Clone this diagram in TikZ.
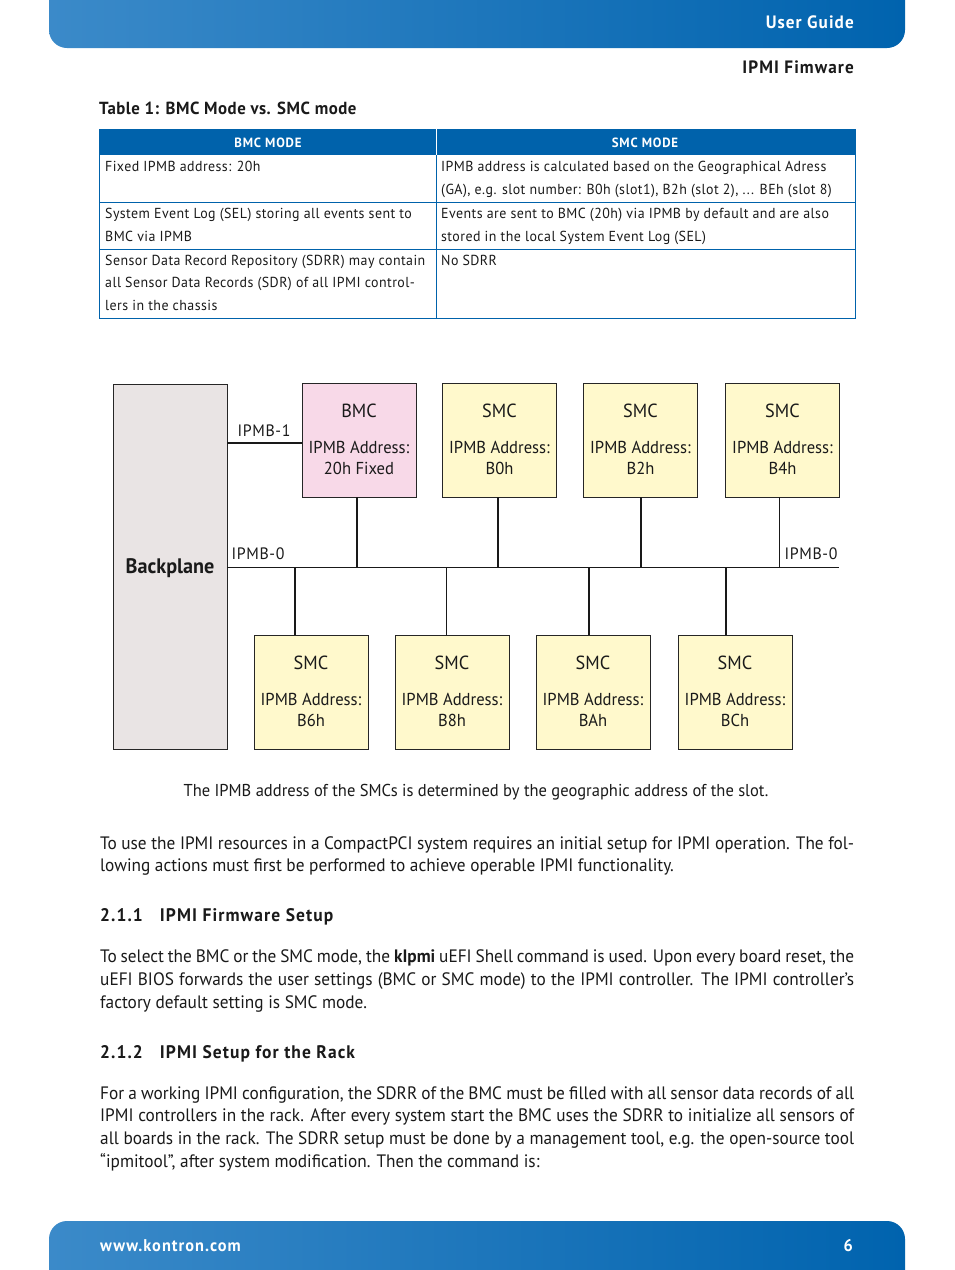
\documentclass[tikz,border=0pt]{standalone}
\usepackage{fontspec}
\setmainfont{PT Sans}[FakeStretch=0.96]
\usetikzlibrary{calc}
\definecolor{kblue}{HTML}{0062AB}
\definecolor{klight}{HTML}{3B8AC9}
\definecolor{kdark}{HTML}{0063AE}
\definecolor{bpgray}{HTML}{E9E4E4}
\definecolor{bmcpink}{HTML}{F8D9E8}
\definecolor{smcyellow}{HTML}{FFF9CC}
\definecolor{txt}{HTML}{1A1A1A}
\newcommand\jline[1]{\makebox[754pt][s]{#1}}
\tikzset{
  body/.style={anchor=base west, inner sep=0pt, text=txt, font=\fontsize{18}{21}\selectfont},
  cell/.style={anchor=base west, inner sep=0pt, text=txt, font=\fontsize{14.5}{17}\selectfont\addfontfeature{LetterSpace=3}},
  head/.style={anchor=base west, inner sep=0pt, text=txt, font=\fontsize{18.2}{21}\selectfont\bfseries\addfontfeature{LetterSpace=6}},
  box/.style={draw=black!85, line width=0.9pt, minimum width=114pt, minimum height=114pt, inner sep=0pt},
  boxtitle/.style={inner sep=0pt, anchor=base, font=\fontsize{19}{22}\selectfont, text=txt},
  boxtext/.style={inner sep=0pt, anchor=base, font=\fontsize{17.3}{20}\selectfont, text=txt},
  thickline/.style={line width=2pt, black!90},
  thinline/.style={line width=0.9pt, black!90},
  buslabel/.style={inner sep=0pt, anchor=base, font=\fontsize{16.5}{19}\selectfont\addfontfeature{LetterSpace=4}, text=txt},
}
\begin{document}
\begin{tikzpicture}[x=1pt,y=-1pt]
\useasboundingbox (0,0) rectangle (954,1270);
\fill[white] (0,0) rectangle (954,1270);
% header and footer bars
\shade[left color=klight, right color=kdark, rounded corners=18pt] (49,-30) rectangle (905,48);
\node[anchor=base east, inner sep=0pt, text=white, font=\fontsize{17.9}{21}\selectfont\bfseries\addfontfeature{LetterSpace=6}] (ug) at (854,28) {User Guide};
\shade[left color=klight, right color=kdark, rounded corners=18pt] (49,1221) rectangle (905,1300);
\node[anchor=base west, inner sep=0pt, text=white, font=\fontsize{17}{20}\selectfont\bfseries\addfontfeature{LetterSpace=6}] (www) at (100,1251) {www.kontron.com};
\node[anchor=base east, inner sep=0pt, text=white, font=\fontsize{17}{20}\selectfont\bfseries] (pg) at (853,1251) {6};
% running head
\node[anchor=base east, inner sep=0pt, text=txt, font=\fontsize{17.9}{21}\selectfont\bfseries\addfontfeature{LetterSpace=6}] (rh) at (854,73) {IPMI Fimware};
\node[anchor=base west, inner sep=0pt, text=txt, font=\fontsize{17.5}{21}\selectfont\bfseries\addfontfeature{LetterSpace=3}] (tcap) at (99,114) {Table 1: BMC Mode vs. SMC mode};
% table
\fill[kblue] (99,129) rectangle (855,155);
\draw[kblue, line width=1pt] (99,129) rectangle (855,318);
\draw[kblue, line width=1pt] (99,202) -- (855,202);
\draw[kblue, line width=1pt] (99,249) -- (855,249);
\draw[kblue, line width=1pt] (436,155) -- (436,318);
\draw[white, line width=1pt] (436,129) -- (436,155);
\node[anchor=base, inner sep=0pt, text=white, font=\fontsize{13.4}{15}\selectfont\bfseries\addfontfeature{LetterSpace=6}] (h1) at (268,147) {BMC MODE};
\node[anchor=base, inner sep=0pt, text=white, font=\fontsize{13.4}{15}\selectfont\bfseries\addfontfeature{LetterSpace=6}] (h2) at (645,147) {SMC MODE};
\node[cell] (c11) at (105,171) {Fixed IPMB address: 20h};
\node[cell] (c12a) at (441,171) {IPMB address is calculated based on the Geographical Adress};
\node[cell] (c12b) at (441,194) {(GA), e.g. slot number: B0h (slot1), B2h (slot 2), ... BEh (slot 8)};
\node[cell] (c21a) at (105,218) {System Event Log (SEL) storing all events sent to};
\node[cell] (c21b) at (105,241) {BMC via IPMB};
\node[cell] (c22a) at (441,218) {Events are sent to BMC (20h) via IPMB by default and are also};
\node[cell] (c22b) at (441,241) {stored in the local System Event Log (SEL)};
\node[cell] (c31a) at (105,265) {Sensor Data Record Repository (SDRR) may contain};
\node[cell] (c31b) at (105,287) {all Sensor Data Records (SDR) of all IPMI control-};
\node[cell] (c31c) at (105,310) {lers in the chassis};
\node[cell] (c32) at (441,265) {No SDRR};
% diagram
\node[box, fill=bpgray, minimum height=365pt] (bp) at (170,566.5) {};
\node[inner sep=0pt, anchor=base, font=\fontsize{21}{24}\selectfont\bfseries, text=txt] (bpl) at (170,573) {Backplane};
\node[box, fill=bmcpink] (bmc) at (359,440) {};
\node[box, fill=smcyellow] (s1) at (499.5,440) {};
\node[box, fill=smcyellow] (s2) at (640.5,440) {};
\node[box, fill=smcyellow] (s3) at (782.5,440) {};
\node[box, fill=smcyellow] (s4) at (311,692) {};
\node[box, fill=smcyellow] (s5) at (452,692) {};
\node[box, fill=smcyellow] (s6) at (593,692) {};
\node[box, fill=smcyellow] (s7) at (735,692) {};
\node[boxtitle] (bmct) at ([yshift=-35pt]bmc.north) {BMC};
\node[boxtext] (bmca) at ([yshift=-71pt]bmc.north) {IPMB Address:};
\node[boxtext] (bmcb) at ([yshift=-92pt]bmc.north) {20h Fixed};
\foreach \n/\a in {s1/B0h,s2/B2h,s3/B4h,s4/B6h,s5/B8h,s6/BAh,s7/BCh}{
  \node[boxtitle] (\n t) at ([yshift=-35pt]\n.north) {SMC};
  \node[boxtext] (\n a) at ([yshift=-71pt]\n.north) {IPMB Address:};
  \node[boxtext] (\n b) at ([yshift=-92pt]\n.north) {\a};
}
% IPMB-1
\draw[thickline] ([yshift=-3pt]bmc.west) -- ([yshift=-3pt]bmc.west -| bp.east);
\node[buslabel] (l1) at (264,436) {IPMB-1};
% IPMB-0 bus
\coordinate (busL) at ([yshift=-0.5pt]bp.east);
\coordinate (busR) at (839,567);
\draw[thinline] (busL) -- (busR);
\node[buslabel] (l0a) at (258,559) {IPMB-0};
\node[buslabel] (l0b) at (811,559) {IPMB-0};
\draw[thickline] ([xshift=-2pt]bmc.south) -- ([xshift=-2pt]bmc.south |- busL);
\draw[thickline] ([xshift=-1.5pt]s1.south) -- ([xshift=-1.5pt]s1.south |- busL);
\draw[thickline] (s2.south) -- (s2.south |- busL);
\draw[thinline] ([xshift=-3.5pt]s3.south) -- ([xshift=-3.5pt]s3.south |- busL);
\draw[thickline] ([xshift=-16pt]s4.north) -- ([xshift=-16pt]s4.north |- busL);
\draw[thinline] ([xshift=-6pt]s5.north) -- ([xshift=-6pt]s5.north |- busL);
\draw[thickline] ([xshift=-4pt]s6.north) -- ([xshift=-4pt]s6.north |- busL);
\draw[thickline] ([xshift=-9pt]s7.north) -- ([xshift=-9pt]s7.north |- busL);
% caption
\node[anchor=base, inner sep=0pt, text=txt, font=\fontsize{17.2}{20}\selectfont] (cap) at (476,796) {The IPMB address of the SMCs is determined by the geographic address of the slot.};
% body text
\node[body] (p1a) at (100,849) {\jline{To use the IPMI resources in a CompactPCI system requires an initial setup for IPMI operation. The fol-}};
\node[body] (p1b) at (100,871) {lowing actions must first be performed to achieve operable IPMI functionality.};
\node[head] (hd1) at (100,921) {2.1.1\hspace{17pt}IPMI Firmware Setup};
\node[body] (p2a) at (100,962) {\jline{To select the BMC or the SMC mode, the \textbf{kIpmi} uEFI Shell command is used. Upon every board reset, the}};
\node[body] (p2b) at (100,985) {\jline{uEFI BIOS forwards the user settings (BMC or SMC mode) to the IPMI controller. The IPMI controller’s}};
\node[body] (p2c) at (100,1008) {factory default setting is SMC mode.};
\node[head] (hd2) at (100,1058) {2.1.2\hspace{17pt}IPMI Setup for the Rack};
\node[body] (p3a) at (100,1099) {\jline{For a working IPMI configuration, the SDRR of the BMC must be filled with all sensor data records of all}};
\node[body] (p3b) at (100,1121) {\jline{IPMI controllers in the rack. After every system start the BMC uses the SDRR to initialize all sensors of}};
\node[body] (p3c) at (100,1144) {\jline{all boards in the rack. The SDRR setup must be done by a management tool, e.g. the open-source tool}};
\node[body] (p3d) at (100,1167) {“ipmitool”, after system modification. Then the command is:};
\end{tikzpicture}
\end{document}
